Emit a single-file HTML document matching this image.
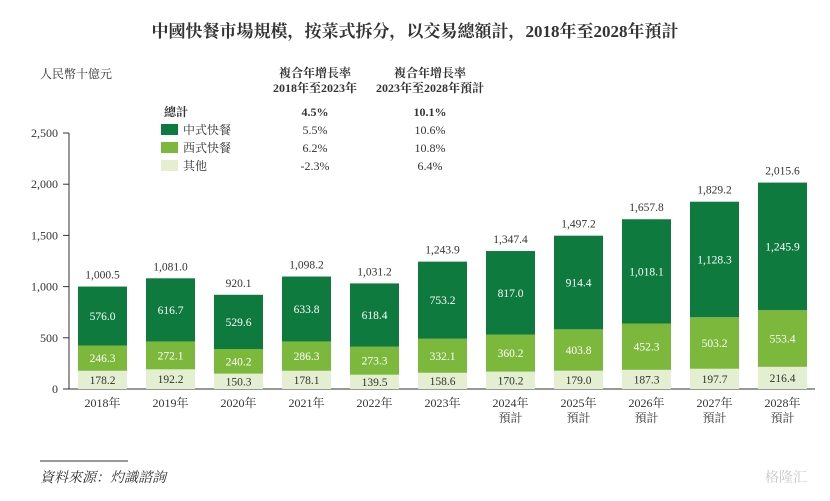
<!DOCTYPE html>
<html><head><meta charset="utf-8"><style>
body{margin:0;background:#fff;width:830px;height:496px;overflow:hidden;font-family:"Liberation Serif","Noto Serif CJK SC",serif;}
svg text{font-family:"Liberation Serif","Noto Serif CJK SC",serif;fill:#333;}
</style></head><body>
<svg id="c" width="830" height="496">
<text x="415" y="37" text-anchor="middle" font-size="17" font-weight="bold" fill="#222">中國快餐市場規模，按菜式拆分，以交易總額計，2018年至2028年預計</text>
<text x="40" y="78" font-size="12">人民幣十億元</text>
<g font-size="12" font-weight="bold" text-anchor="middle">
<text x="315" y="77">複合年增長率</text><text x="315" y="92">2018年至2023年</text>
<text x="430" y="77">複合年增長率</text><text x="430" y="92">2023年至2028年預計</text>
</g>
<g font-size="12">
<text x="164" y="116" font-weight="bold">總計</text>
<text x="315" y="116" font-weight="bold" text-anchor="middle">4.5%</text>
<text x="430" y="116" font-weight="bold" text-anchor="middle">10.1%</text>
<rect x="161" y="124" width="17" height="11" fill="#0e7a3d"/>
<text x="183" y="134">中式快餐</text><text x="315" y="134" text-anchor="middle">5.5%</text><text x="430" y="134" text-anchor="middle">10.6%</text>
<rect x="161" y="142" width="17" height="11" fill="#7cb83b"/>
<text x="183" y="152">西式快餐</text><text x="315" y="152" text-anchor="middle">6.2%</text><text x="430" y="152" text-anchor="middle">10.8%</text>
<rect x="161" y="160" width="17" height="11" fill="#e3efd0"/>
<text x="183" y="170">其他</text><text x="315" y="170" text-anchor="middle">-2.3%</text><text x="430" y="170" text-anchor="middle">6.4%</text>
</g>
<g id="plot"></g>
<line x1="40" y1="461" x2="128" y2="461" stroke="#333" stroke-width="1"/>
<text x="40" y="482" font-size="14" font-style="italic">資料來源：灼識諮詢</text>
<text x="765" y="482" font-size="14" fill="#ccc" style="fill:#c8c8c8">格隆汇</text>
</svg>
<script>
const categories=["2018年","2019年","2020年","2021年","2022年","2023年","2024年|預計","2025年|預計","2026年|預計","2027年|預計","2028年|預計"];
const other=[178.2,192.2,150.3,178.1,139.5,158.6,170.2,179.0,187.3,197.7,216.4];
const western=[246.3,272.1,240.2,286.3,273.3,332.1,360.2,403.8,452.3,503.2,553.4];
const chinese=[576.0,616.7,529.6,633.8,618.4,753.2,817.0,914.4,1018.1,1128.3,1245.9];
const totals=[1000.5,1081.0,920.1,1098.2,1031.2,1243.9,1347.4,1497.2,1657.8,1829.2,2015.6];
const yTicks=[0,500,1000,1500,2000,2500];
const NS="http://www.w3.org/2000/svg";
const g=document.getElementById('plot');
const y0=389,yTop=133,maxV=2500;
const y=v=>y0-(v/maxV)*(y0-yTop);
const x=i=>102.5+i*68;
const bw=49;
function mk(t,a){const e=document.createElementNS(NS,t);for(const k in a)e.setAttribute(k,a[k]);g.appendChild(e);return e;}
function fmt(v){return v.toLocaleString('en-US',{minimumFractionDigits:1,maximumFractionDigits:1});}
let ax=mk('line',{x1:69,y1:yTop,x2:69,y2:y0,stroke:'#333'});

let bx=mk('line',{x1:63,y1:y0,x2:815,y2:y0,stroke:'#333'});

yTicks.forEach(t=>{
 let l=mk('line',{x1:63,y1:y(t),x2:69,y2:y(t),stroke:'#333'});
 
 let tx=mk('text',{x:58,y:y(t)+4,'font-size':12,'text-anchor':'end'});tx.textContent=t.toLocaleString('en-US');
 
});
const series=[[other,'#e3efd0','other','#333'],[western,'#7cb83b','western','#fff'],[chinese,'#0e7a3d','chinese','#fff']];
categories.forEach((c,i)=>{
 let base=0;
 series.forEach(([arr,col,nm,tc])=>{
  const v=arr[i];
  let r=mk('rect',{x:x(i)-bw/2,y:y(base+v),width:bw,height:y(base)-y(base+v),fill:col});
  
  let t=mk('text',{x:x(i),y:(y(base)+y(base+v))/2+4,'font-size':11.5,'text-anchor':'middle'});
  t.style.fill=tc;t.textContent=fmt(v);
  
  base+=v;
 });
 let tt=mk('text',{x:x(i),y:y(totals[i])-8,'font-size':11.5,'text-anchor':'middle'});
 tt.textContent=fmt(totals[i]);
 
 c.split('|').forEach((s,k)=>{
  let xl=mk('text',{x:x(i),y:407+k*15,'font-size':12,'text-anchor':'middle'});xl.textContent=s;
  
 });
});
</script>
</body></html>
